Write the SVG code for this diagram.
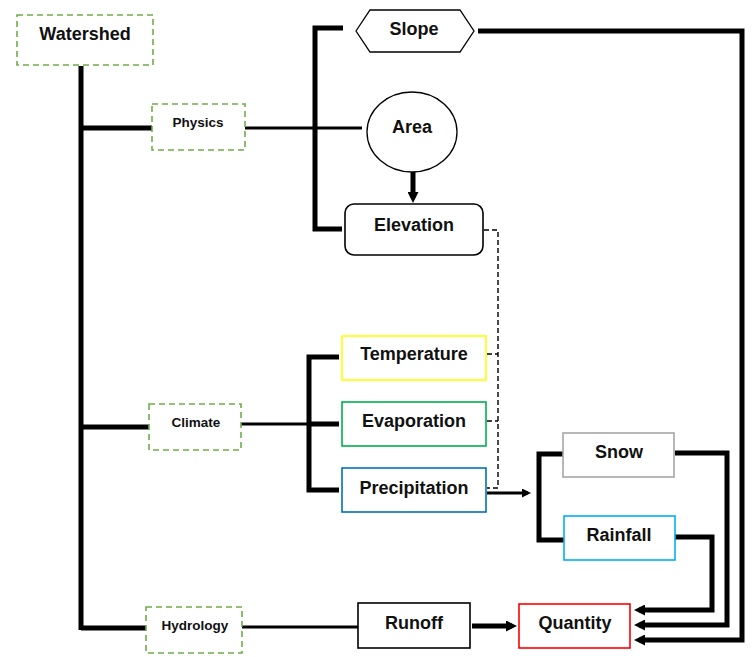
<svg xmlns="http://www.w3.org/2000/svg" width="752" height="657" viewBox="0 0 752 657">
<style>
text{font-family:"Liberation Sans",Arial,sans-serif;font-weight:bold;fill:#111;text-anchor:middle;dominant-baseline:central}
.big{font-size:18px}
.small{font-size:13.5px}
.dash{fill:#fff;stroke:#70ad47;stroke-width:1.6;stroke-dasharray:6 4}
.box{fill:#fff;stroke-width:1.6}
.thick{fill:none;stroke:#000;stroke-width:5;stroke-linecap:butt}
.mid{fill:none;stroke:#000;stroke-width:3}
.dot{fill:none;stroke:#000;stroke-width:1.4;stroke-dasharray:5 3}
</style>
<defs>
<marker id="ah" markerWidth="2.2" markerHeight="2.2" refX="1.2" refY="1.1" orient="auto" markerUnits="strokeWidth" viewBox="0 0 2.2 2.2">
<path d="M0,0 L2.2,1.1 L0,2.2 z" fill="#000"/>
</marker>
<marker id="ah2" markerWidth="3" markerHeight="3" refX="2" refY="1.5" orient="auto" markerUnits="strokeWidth" viewBox="0 0 3 3">
<path d="M0,0 L3,1.5 L0,3 z" fill="#000"/>
</marker>
</defs>
<rect width="752" height="657" fill="#fff"/>
<g id="connectors">
<path class="thick" d="M81,66 V630"/>
<path class="thick" d="M81,128 H152"/>
<path class="mid" d="M245,128 H362"/>
<path class="thick" d="M343,28 H315 V229 H342"/>
<path class="thick" d="M413,172 V198" marker-end="url(#ah)"/>
<path class="thick" d="M478,31 H742 V640 H639" marker-end="url(#ah)"/>
<path class="dot" d="M484,230 H498 V488 H487 M487,354 H498 M487,421 H498"/>
<path class="thick" d="M81,427 H149"/>
<path class="mid" d="M241,424 H309"/>
<path class="thick" d="M339,357 H309 V490 H339 M309,424 H339"/>
<path class="mid" d="M487,493 H528" marker-end="url(#ah2)"/>
<path class="thick" d="M563,454 H539 V540 H564"/>
<path class="thick" d="M675,453 H727 V625 H639" marker-end="url(#ah)"/>
<path class="thick" d="M675,537 H712 V610 H639" marker-end="url(#ah)"/>
<path class="thick" d="M81,628 H146"/>
<path class="mid" d="M242,627 H358"/>
<path class="thick" d="M472,626 H512" marker-end="url(#ah)"/>
</g>
<g id="watershed"><rect class="dash" x="17" y="15" width="136" height="50"/><text class="big" x="85" y="34">Watershed</text></g>
<g id="physics"><rect class="dash" x="152" y="104" width="93" height="46"/><text class="small" x="198" y="122">Physics</text></g>
<g id="slope"><polygon points="356,31 370,10 460,10 474,31 460,52 370,52" fill="#fff" stroke="#000" stroke-width="1.3"/><text class="big" x="414" y="29">Slope</text></g>
<g id="area"><ellipse cx="412" cy="132" rx="45" ry="40" fill="#fff" stroke="#000" stroke-width="1.3"/><text class="big" x="412" y="127">Area</text></g>
<g id="elevation"><rect class="box" x="345" y="204" width="138" height="51" rx="9" stroke="#000" stroke-width="1.3"/><text class="big" x="414" y="225">Elevation</text></g>
<g id="climate"><rect class="dash" x="149" y="404" width="92" height="46"/><text class="small" x="196" y="422">Climate</text></g>
<g id="temperature"><rect class="box" x="342" y="336" width="144" height="44" stroke="#ffff00"/><text class="big" x="414" y="354">Temperature</text></g>
<g id="evaporation"><rect class="box" x="342" y="402" width="144" height="44" stroke="#00b050"/><text class="big" x="414" y="421">Evaporation</text></g>
<g id="precipitation"><rect class="box" x="342" y="468" width="144" height="44" stroke="#0070c0"/><text class="big" x="414" y="488">Precipitation</text></g>
<g id="snow"><rect class="box" x="563" y="433" width="111" height="44" stroke="#a6a6a6"/><text class="big" x="619" y="452">Snow</text></g>
<g id="rainfall"><rect class="box" x="564" y="516" width="111" height="44" stroke="#00b0f0"/><text class="big" x="619" y="535">Rainfall</text></g>
<g id="hydrology"><rect class="dash" x="146" y="607" width="96" height="46"/><text class="small" x="195" y="625">Hydrology</text></g>
<g id="runoff"><rect class="box" x="358" y="603" width="112" height="45" stroke="#000"/><text class="big" x="414" y="623">Runoff</text></g>
<g id="quantity"><rect class="box" x="519" y="604" width="111" height="44" stroke="#ff0000"/><text class="big" x="575" y="623">Quantity</text></g>
</svg>
